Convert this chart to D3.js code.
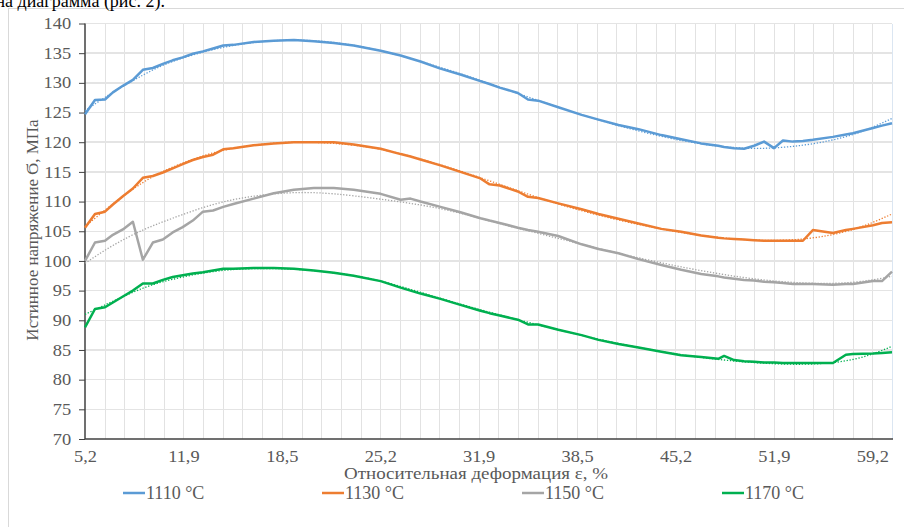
<!DOCTYPE html>
<html lang="ru">
<head>
<meta charset="utf-8">
<style>
  body { margin: 0; background: #fff; font-family: 'Liberation Serif', 'Times New Roman', serif; }
  .grid line { shape-rendering: crispEdges; }
  .axis text { fill: #595959; font-size: 16px; font-family: 'Liberation Serif', serif; }
  .axis .domain { display: none; }
</style>
</head>
<body>
<div id="chart"></div>
<script src="https://d3js.org/d3.v7.min.js"></script>
<script>

// strain values (category axis, %) shared by all series
var strain = [5.20, 5.88, 6.56, 7.10, 7.78, 8.46, 9.14, 9.82, 10.50, 11.17,
  11.85, 12.53, 13.21, 13.89, 14.57, 15.25, 16.61, 17.96, 19.32, 20.68,
  22.04, 23.39, 25.23, 26.59, 27.26, 27.94, 29.30, 30.66, 32.02, 32.63,
  33.31, 34.53, 35.21, 35.89, 37.24, 38.81, 39.96, 41.32, 42.68, 44.24,
  45.59, 46.95, 48.11, 48.51, 49.19, 49.87, 50.55, 51.23, 51.91, 52.57,
  53.31, 54.05, 54.79, 56.28, 57.24, 57.76, 59.25, 59.91, 60.65];

var s1110 = [124.7, 127.1, 127.2, 128.4, 129.5, 130.5, 132.2, 132.5, 133.2, 133.8,
  134.3, 134.9, 135.3, 135.8, 136.3, 136.4, 136.9, 137.1, 137.2, 137.0,
  136.7, 136.3, 135.4, 134.6, 134.1, 133.6, 132.4, 131.4, 130.3, 129.8,
  129.2, 128.3, 127.2, 127.0, 125.9, 124.6, 123.8, 122.9, 122.2, 121.2,
  120.5, 119.8, 119.4, 119.2, 119.0, 118.9, 119.4, 120.1, 119.0, 120.3,
  120.1, 120.2, 120.4, 120.9, 121.3, 121.5, 122.4, 122.8, 123.2];

var s1130 = [105.6, 107.9, 108.3, 109.5, 110.9, 112.2, 114.0, 114.3, 114.9, 115.6,
  116.3, 117.0, 117.5, 117.9, 118.8, 119.0, 119.5, 119.8, 120.0, 120.0,
  120.0, 119.6, 118.9, 118.0, 117.6, 117.1, 116.1, 115.0, 113.9, 112.9,
  112.7, 111.7, 110.8, 110.6, 109.7, 108.7, 107.9, 107.1, 106.3, 105.4,
  104.9, 104.3, 103.9, 103.8, 103.7, 103.6, 103.5, 103.4, 103.4, 103.4,
  103.4, 103.4, 105.2, 104.7, 105.2, 105.4, 106.0, 106.4, 106.5];

var s1150 = [100.0, 103.1, 103.4, 104.4, 105.3, 106.6, 100.2, 103.1, 103.6, 104.8,
  105.7, 106.8, 108.3, 108.5, 109.1, 109.6, 110.5, 111.4, 112.0, 112.3,
  112.3, 112.0, 111.3, 110.3, 110.5, 110.0, 109.1, 108.2, 107.2, 106.8,
  106.4, 105.6, 105.2, 104.9, 104.2, 102.8, 102.0, 101.3, 100.3, 99.3,
  98.5, 97.8, 97.4, 97.2, 97.0, 96.8, 96.7, 96.5, 96.4, 96.3,
  96.1, 96.1, 96.1, 96.0, 96.1, 96.1, 96.6, 96.6, 98.2];

var s1170 = [88.8, 91.9, 92.2, 93.0, 94.0, 95.0, 96.2, 96.2, 96.8, 97.3,
  97.6, 97.9, 98.1, 98.4, 98.7, 98.7, 98.8, 98.8, 98.7, 98.4,
  98.0, 97.5, 96.6, 95.5, 95.0, 94.5, 93.6, 92.6, 91.6, 91.2,
  90.8, 90.1, 89.3, 89.3, 88.4, 87.5, 86.7, 86.0, 85.4, 84.7,
  84.1, 83.8, 83.5, 84.0, 83.3, 83.1, 83.0, 82.9, 82.9, 82.8,
  82.8, 82.8, 82.8, 82.8, 84.2, 84.3, 84.4, 84.5, 84.6];

// polynomial trendlines
var trendStrain = [5.20, 7.10, 9.14, 11.17, 13.89, 16.61, 19.32, 22.04, 25.23,
  29.30, 33.31, 37.24, 41.32, 45.59, 49.87, 54.05, 57.76, 60.65];
var t1110 = [125.3, 128.4, 131.3, 133.6, 135.6, 136.8, 137.2, 136.8, 135.4,
  132.6, 129.3, 125.9, 122.8, 120.3, 119.0, 119.5, 121.3, 124.0];
var t1130 = [105.8, 109.6, 113.2, 115.8, 118.2, 119.5, 120.0, 119.8, 118.8,
  116.2, 112.9, 109.6, 106.9, 104.8, 103.6, 103.7, 105.3, 107.9];
var t1150 = [99.6, 102.6, 105.2, 107.2, 109.5, 110.9, 111.5, 111.3, 110.4,
  108.8, 106.3, 103.8, 101.3, 99.0, 97.2, 96.3, 96.4, 97.4];
var t1170 = [91.0, 93.2, 95.4, 96.9, 98.2, 98.7, 98.6, 98.0, 96.6,
  93.7, 90.9, 88.4, 86.1, 84.2, 83.0, 82.6, 83.4, 85.6];

var seriesNames = ["1110 °C", "1130 °C", "1150 °C", "1170 °C"];
var seriesValues = [s1110, s1130, s1150, s1170];
var trendValues = [t1110, t1130, t1150, t1170];
var colors = ["#5b9bd5", "#ed7d31", "#a5a5a5", "#00b050"];

var xTicks = [5.2, 11.9, 18.5, 25.2, 31.9, 38.5, 45.2, 51.9, 59.2];
var xEnd = 60.65;
var yTicks = d3.range(70, 141, 5);

var width = 904, height = 527;
var plotLeft = 85, plotRight = 892, plotTop = 23.5, plotBottom = 439;
var nCats = 41; // category intervals on the axis
var stretch = "scale(1.15,1)"; // the picture is a little wider than the font

var svg = d3.select("#chart").append("svg")
    .attr("width", width)
    .attr("height", height);

// x: category axis, labels every 5 categories
var catStep = (plotRight - plotLeft) / nCats;
var x = d3.scaleLinear()
    .domain(xTicks.concat([xEnd]))
    .range(xTicks.map(function(d, i) { return plotLeft + i * 5 * catStep; }).concat([plotRight]));

var y = d3.scaleLinear()
    .domain([70, 140])
    .range([plotBottom, plotTop]);

// chart frame
svg.append("rect")
    .attr("x", 8.5).attr("y", 8.5)
    .attr("width", 1000).attr("height", 1000)
    .attr("fill", "none")
    .attr("stroke", "#d9d9d9");

// text of the page above the chart (cut off)
svg.append("text")
    .attr("x", 165).attr("y", 7)
    .attr("text-anchor", "end")
    .style("font-size", "18px")
    .style("fill", "#000")
    .text("на диаграмма (рис. 2).");

// gridlines
var grid = svg.append("g").attr("class", "grid");
grid.selectAll(".vg")
    .data(d3.range(1, nCats + 1))
  .enter().append("line")
    .attr("x1", function(k) { return Math.round(plotLeft + k * catStep) + 0.5; })
    .attr("x2", function(k) { return Math.round(plotLeft + k * catStep) + 0.5; })
    .attr("y1", plotTop).attr("y2", plotBottom)
    .attr("stroke", function(k) { return k === nCats ? "#dbe6f2" : "#e2e2e2"; });
grid.selectAll(".hg")
    .data(yTicks.slice(1))
  .enter().append("line")
    .attr("x1", plotLeft).attr("x2", plotRight)
    .attr("y1", function(d) { return y(d); })
    .attr("y2", function(d) { return y(d); })
    .attr("stroke", "#e4e4e4")
    .attr("stroke-width", 1.5);

// axes
var yAxis = svg.append("g")
    .attr("class", "axis")
    .attr("transform", "translate(" + plotLeft + ",0)")
    .call(d3.axisLeft(y).tickValues(yTicks).tickSize(6).tickPadding(8));
yAxis.selectAll(".tick line").attr("stroke", "#404040");
yAxis.selectAll(".tick text").attr("x", -12).attr("transform", stretch);

var xAxis = svg.append("g")
    .attr("class", "axis")
    .attr("transform", "translate(0," + plotBottom + ")")
    .call(d3.axisBottom(x).tickValues(xTicks).tickSize(0).tickPadding(12)
      .tickFormat(function(d) { return String(d).replace(".", ","); }));
xAxis.selectAll(".tick text").attr("transform", stretch);

svg.append("line")
    .attr("x1", plotLeft).attr("x2", plotLeft)
    .attr("y1", plotTop).attr("y2", plotBottom)
    .attr("stroke", "#404040").attr("stroke-width", 1.5);
svg.append("line")
    .attr("x1", plotLeft).attr("x2", plotRight + 1)
    .attr("y1", plotBottom).attr("y2", plotBottom)
    .attr("stroke", "#404040").attr("stroke-width", 1.5);

// data lines
var line = d3.line()
    .x(function(d, i) { return x(strain[i]); })
    .y(function(d) { return y(d); });

svg.append("g").selectAll("path")
    .data(seriesValues)
  .enter().append("path")
    .attr("d", line)
    .attr("fill", "none")
    .attr("stroke", function(d, i) { return colors[i]; })
    .attr("stroke-width", 2.5)
    .attr("stroke-linejoin", "round");

// trendlines
var trend = d3.line()
    .x(function(d, i) { return x(trendStrain[i]); })
    .y(function(d) { return y(d); })
    .curve(d3.curveNatural);

svg.append("g").selectAll("path")
    .data(trendValues)
  .enter().append("path")
    .attr("d", trend)
    .attr("fill", "none")
    .attr("stroke", function(d, i) { return colors[i]; })
    .attr("stroke-width", 1.3)
    .attr("stroke-dasharray", "1.3,1.7");

// axis titles
svg.append("text")
    .attr("transform", "translate(38,230) rotate(-90)")
    .attr("text-anchor", "middle")
    .style("font-size", "17px")
    .style("fill", "#595959")
    .text("Истинное напряжение Ϭ, МПа");

svg.append("text")
    .attr("transform", "translate(476,479) " + stretch)
    .attr("text-anchor", "middle")
    .style("font-size", "16.5px")
    .style("fill", "#595959")
    .text("Относительная деформация ε, %");

// legend
var legendX = [123, 322, 522, 722];
var legend = svg.append("g").selectAll("g")
    .data(seriesNames)
  .enter().append("g")
    .attr("transform", function(d, i) { return "translate(" + legendX[i] + ",493)"; });
legend.append("line")
    .attr("x1", 0).attr("x2", 22)
    .attr("stroke", function(d, i) { return colors[i]; })
    .attr("stroke-width", 2.5);
legend.append("text")
    .attr("x", 23).attr("y", 6)
    .style("font-size", "18px")
    .style("fill", "#595959")
    .text(function(d) { return d; });

</script>
</body>
</html>
